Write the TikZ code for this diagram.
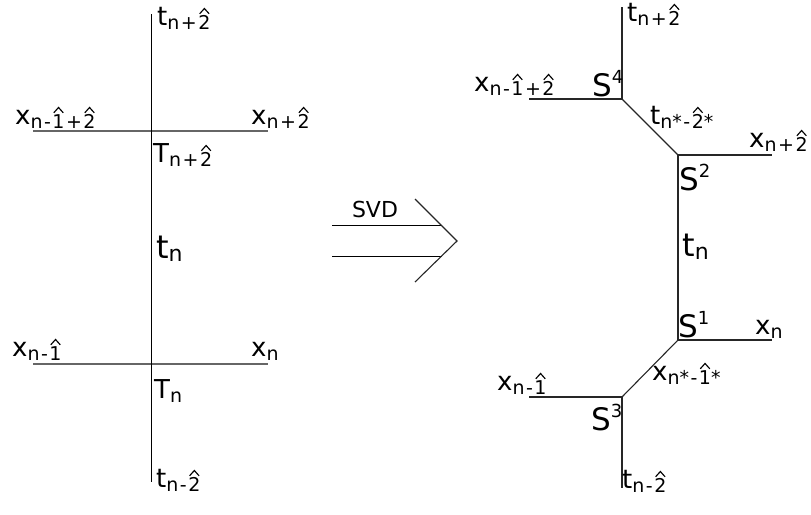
\documentclass[tikz,border=0pt]{standalone}
\usepackage{fontspec}
\setmainfont{DejaVu Sans}
\usepackage{graphicx}
\newcommand\hh[1]{\ooalign{#1\cr\hidewidth\raisebox{0.8em}{\tikz[x=1em,y=1em,baseline=0pt]\draw[line width=0.06em,black] (0,0)--(0.25,0.28)--(0.5,0);}\hidewidth\cr}}
\newcommand\sk{\kern1.5pt}
\newcommand\lsm[2]{{\fontsize{26}{26}\selectfont #1}\raisebox{-4pt}{\fontsize{19}{19}\selectfont #2}}
\newcommand\lbg[2]{{\fontsize{32}{32}\selectfont #1}\raisebox{-3pt}{\fontsize{22}{22}\selectfont #2}}
\newcommand\lS[1]{{\fontsize{31}{31}\selectfont S}\raisebox{13pt}{\fontsize{18}{18}\selectfont #1}}
\begin{document}
\begin{tikzpicture}[x=1pt,y=-1pt,
  ln/.style={line width=1pt,black},
  hl/.style={line width=1.3pt,black!60},
  rl/.style={line width=1.1pt,black!85},
  lab/.style={anchor=base west,inner sep=0pt}]
\useasboundingbox (0,0) rectangle (811,514);
% ---------- left panel ----------
\coordinate (Ltop) at (151,14);
\coordinate (Lbot) at (151,482);
\coordinate (LuL) at (33,131);
\coordinate (LuR) at (268,131);
\coordinate (LlL) at (33,364);
\coordinate (LlR) at (268,364);
\draw[hl] (LuL) -- (LuR);
\draw[hl] (LlL) -- (LlR);
\draw[ln] (Ltop) -- (Lbot);
\node[lab] (tL1) at (157,25) {\lsm{t}{n\sk+\sk\hh{2}}};
\node[lab] (xL1) at (15,124) {\lsm{x}{n\sk-\sk\hh{1}\sk+\sk\hh{2}}};
\node[lab] (xL2) at (251,124) {\lsm{x}{n\sk+\sk\hh{2}}};
\node[lab] (TL1) at (153,162) {\lsm{T}{n\sk+\sk\hh{2}}};
\node[lab] (tLn) at (156,258) {\lbg{t}{n}};
\node[lab] (xL3) at (12,356) {\lsm{x}{n\sk-\sk\hh{1}}};
\node[lab] (xL4) at (251,356) {\lsm{x}{n}};
\node[lab] (TL2) at (154,398) {\lsm{T}{n}};
\node[lab] (tL2) at (156,487) {\lsm{t}{n\sk-\sk\hh{2}}};
% ---------- arrow ----------
\coordinate (A1s) at (332,225);
\coordinate (A1e) at (441,225);
\coordinate (A2s) at (332,256);
\coordinate (A2e) at (442,256);
\coordinate (Ca) at (415,199);
\coordinate (Ct) at (457,241);
\coordinate (Cb) at (415,282);
\draw[ln] (A1s) -- (A1e);
\draw[ln] (A2s) -- (A2e);
\draw[rl] (Ca) -- (Ct) -- (Cb);
\node[inner sep=0pt,font=\fontsize{22}{22}\selectfont] (svd) at (375,209) {SVD};
% ---------- right panel ----------
\coordinate (Rtop) at (622,7);
\coordinate (S4) at (622,99);
\coordinate (S4L) at (529,99);
\coordinate (S2) at (678,155);
\coordinate (S2R) at (772,155);
\coordinate (S1) at (678,340);
\coordinate (S1R) at (772,340);
\coordinate (S3) at (622,397);
\coordinate (S3L) at (529,397);
\coordinate (Rbot) at (622,488);
\draw[rl] (Rtop) -- (S4);
\draw[rl] (S4L) -- (S4);
\draw[rl] (S4) -- (S2);
\draw[rl] (S2) -- (S2R);
\draw[rl] (S2) -- (S1);
\draw[rl] (S1) -- (S1R);
\draw[rl] (S1) -- (S3);
\draw[rl] (S3L) -- (S3);
\draw[rl] (S3) -- (Rbot);
\node[lab] (tR1) at (627,21) {\lsm{t}{n\sk+\sk\hh{2}}};
\node[lab] (xR1) at (474,91) {\lsm{x}{n\sk-\sk\hh{1}\sk+\sk\hh{2}}};
\node[lab] (lS4) at (592,96) {\lS{4}};
\node[lab] (tRs) at (650,124) {\lsm{t}{n*\sk-\sk\hh{2}*}};
\node[lab] (xR2) at (749,147) {\lsm{x}{n\sk+\sk\hh{2}}};
\node[lab] (lS2) at (679,190) {\lS{2}};
\node[lab] (tRn) at (682,256) {\lbg{t}{n}};
\node[lab] (lS1) at (678,337) {\lS{1}};
\node[lab] (xR3) at (755,334) {\lsm{x}{n}};
\node[lab] (xRs) at (652,380) {\lsm{x}{n*\sk-\sk\hh{1}*}};
\node[lab] (xR4) at (497,390) {\lsm{x}{n\sk-\sk\hh{1}}};
\node[lab] (lS3) at (591,430) {\lS{3}};
\node[lab] (tR2) at (622,488) {\lsm{t}{n\sk-\sk\hh{2}}};
\end{tikzpicture}
\end{document}
